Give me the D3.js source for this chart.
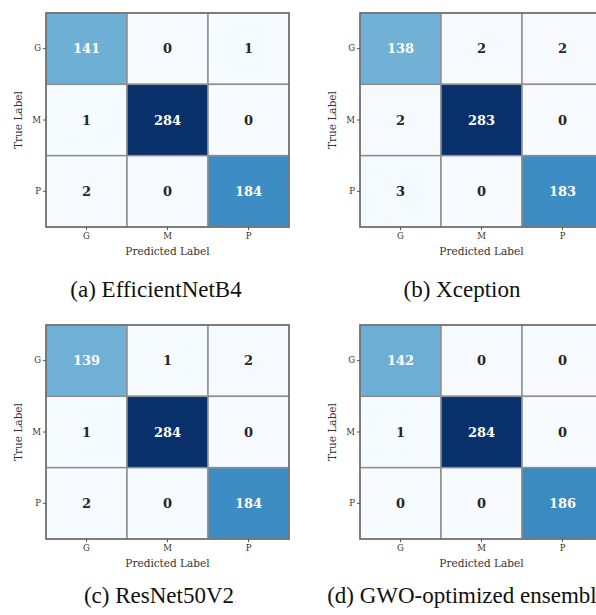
<!DOCTYPE html>
<html>
<head>
<meta charset="utf-8">
<script src="https://cdn.jsdelivr.net/npm/d3@7"></script>
<style>
body{margin:0;background:#fff;}
svg{display:block;}
.tick text{font-family:"DejaVu Serif",serif;fill:#333;}
</style>
</head>
<body>
<div id="chart"></div>
<script>
// class labels, shared by all four matrices
var classes = ["G","M","P"];

// confusion matrices (rows = true label, cols = predicted)
var effnetB4 = [[141,0,1],[1,284,0],[2,0,184]];
var xception = [[138,2,2],[2,283,0],[3,0,183]];
var resnet50v2 = [[139,1,2],[1,284,0],[2,0,184]];
var gwoEnsemble = [[142,0,0],[1,284,0],[0,0,186]];

var captions = ["(a) EfficientNetB4","(b) Xception","(c) ResNet50V2","(d) GWO-optimized ensemble"];
var matrices = [effnetB4, xception, resnet50v2, gwoEnsemble];

var W = 596, H = 615;
var svg = d3.select("#chart").append("svg").attr("width",W).attr("height",H);

//panel origins = top-left corner of the heatmap
var origins = [[46,13],[360,13],[46,325],[360,325]];
//caption anchor (center x, baseline y) in page coords
var capPos = [[156,297],[462,297],[159,603],[467,603]];
var mw = 243, mh = 214;

function drawPanel(m, idx){
	var o = origins[idx];
	var g = svg.append("g").attr("transform","translate("+o[0]+","+o[1]+")");

	var x = d3.scaleBand().domain(classes).range([0,mw]);
	var y = d3.scaleBand().domain(classes).range([0,mh]);
	var vmax = d3.max(m, function(r){return d3.max(r)});
	var color = d3.scaleSequential(d3.interpolateBlues).domain([0,vmax]);

	var cells = [];
	m.forEach(function(row,i){
		row.forEach(function(v,j){ cells.push({t:classes[i], p:classes[j], v:v}); });
	});

	g.selectAll("rect.cell").data(cells).enter().append("rect").classed("cell",true)
		.attr("x",function(d){return x(d.p)})
		.attr("y",function(d){return y(d.t)})
		.attr("width",x.bandwidth()).attr("height",y.bandwidth())
		.attr("fill",function(d){return color(d.v)})
		.attr("stroke","#8f8f8f").attr("stroke-width",1.5);

	//text colour flips to white on the darker cells
	g.selectAll("text.val").data(cells).enter().append("text").classed("val",true)
		.attr("x",function(d){return x(d.p)+x.bandwidth()/2})
		.attr("y",function(d){return y(d.t)+y.bandwidth()/2})
		.attr("dy","0.36em")
		.attr("text-anchor","middle")
		.style("font-family","'DejaVu Serif', serif").style("font-weight","bold").style("font-size","13px")
		.attr("fill",function(d){return d.v > vmax*0.35 ? "#ffffff" : "#262626"})
		.text(function(d){return d.v});

	//outer frame
	g.append("rect").attr("width",mw).attr("height",mh).attr("fill","none")
		.attr("stroke","#6f6f6f").attr("stroke-width",1.5);

	var ax = g.append("g").attr("transform","translate(0,"+mh+")")
		.call(d3.axisBottom(x).tickSize(3).tickPadding(3));
	var ay = g.append("g").call(d3.axisLeft(y).tickSize(3).tickPadding(2));
	[ax,ay].forEach(function(a){
		a.select(".domain").remove();
		a.selectAll(".tick line").attr("stroke","#555");
		a.selectAll(".tick text").style("font-size","8.5px");
	});

	g.append("text").attr("x",mw/2).attr("y",mh+28)
		.attr("text-anchor","middle")
		.style("font-family","'DejaVu Serif', serif").style("font-size","10.5px").attr("fill","#333")
		.text("Predicted Label");

	g.append("text").attr("transform","translate(-24,"+(mh/2)+") rotate(-90)")
		.attr("text-anchor","middle")
		.style("font-family","'DejaVu Serif', serif").style("font-size","10.5px").attr("fill","#333")
		.text("True Label");

	svg.append("text").attr("x",capPos[idx][0]).attr("y",capPos[idx][1])
		.attr("text-anchor", "middle")
		.style("font-family","'Liberation Serif', 'Times New Roman', serif").style("font-size","23px").attr("fill","#111")
		.text(captions[idx]);
}

matrices.forEach(drawPanel);
</script>
</body>
</html>
